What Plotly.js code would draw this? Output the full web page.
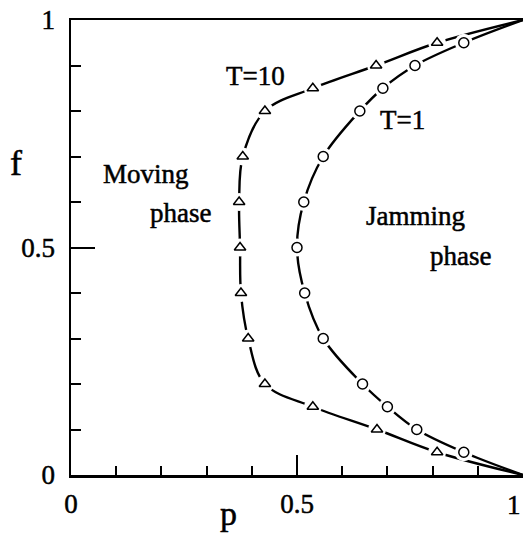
<!DOCTYPE html>
<html>
<head>
<meta charset="utf-8">
<script src="https://cdn.plot.ly/plotly-3.0.1.min.js"></script>
<style>
html,body{margin:0;padding:0;background:#fff;}
#chart{width:523px;height:535px;}
#chart .annotation-text, #chart .xtick text, #chart .ytick text { stroke: #000; stroke-width: 0.5px; }
</style>
</head>
<body>
<div id="chart"></div>
<script>
// Data
var fT10 = [0.05, 0.1, 0.15, 0.2, 0.3, 0.4, 0.5, 0.6, 0.7, 0.8, 0.85, 0.9, 0.95];
var pT10 = [0.81, 0.677, 0.535, 0.429, 0.392, 0.376, 0.374, 0.372, 0.38, 0.429, 0.535, 0.675, 0.81];
var fT1 = [0.05, 0.1, 0.15, 0.2, 0.3, 0.4, 0.5, 0.6, 0.7, 0.8, 0.85, 0.9, 0.95];
var pT1 = [0.869, 0.765, 0.70, 0.645, 0.558, 0.517, 0.50, 0.515, 0.558, 0.639, 0.69, 0.761, 0.869];
var endP = [1, 1];
var endF = [0, 1];
var tickVals = [0, 0.5, 1];
var tickText = ['0', '0.5', '1'];

var FONT = "'Liberation Serif', 'Times New Roman', serif";

function curve(p, f) {
  return {
    x: [endP[0]].concat(p, [endP[1]]),
    y: [endF[0]].concat(f, [endF[1]])
  };
}
var c10 = curve(pT10, fT10);
var c1 = curve(pT1, fT1);

var traces = [
  {x: c10.x, y: c10.y, mode: 'lines', line: {color: '#000', width: 2.4, shape: 'spline', smoothing: 1}, hoverinfo: 'skip', showlegend: false},
  {x: c1.x, y: c1.y, mode: 'lines', line: {color: '#000', width: 2.4, shape: 'spline', smoothing: 1}, hoverinfo: 'skip', showlegend: false},
  {x: pT10, y: fT10, mode: 'markers', marker: {symbol: 'circle', size: 18, color: '#fff', line: {width: 0}}, showlegend: false, hoverinfo: 'skip'},
  {x: pT1, y: fT1, mode: 'markers', marker: {symbol: 'circle', size: 18, color: '#fff', line: {width: 0}}, showlegend: false, hoverinfo: 'skip'},
  {x: pT10, y: fT10, mode: 'markers', name: 'T=10', marker: {symbol: 'triangle-up', size: 10, color: '#fff', line: {color: '#000', width: 1.5}}, showlegend: false},
  {x: pT1, y: fT1, mode: 'markers', name: 'T=1', marker: {symbol: 'circle', size: 10, color: '#fff', line: {color: '#000', width: 1.5}}, showlegend: false}
];

function ann(text, x, y, size, ref, xa, ya) {
  return {text: text, x: x, y: y, xref: ref || 'x', yref: ref || 'y', showarrow: false,
          xanchor: xa || 'center', yanchor: ya || 'middle', font: {family: FONT, size: size || 27, color: '#000'}};
}
// pixel -> data / paper helpers for layout placement
function px(x) { return (x - 71) / 452; }
function py(y) { return (475 - y) / 455; }

var layout = {
  width: 523, height: 535,
  margin: {l: 71, r: 0, t: 20, b: 60},
  paper_bgcolor: '#fff', plot_bgcolor: '#fff',
  showlegend: false,
  xaxis: {
    range: [0, 1], showgrid: false, zeroline: false,
    showline: true, linecolor: '#000', linewidth: 2.5, mirror: true,
    ticks: 'inside', tickvals: tickVals.slice(0, 2), ticktext: tickText.slice(0, 2), ticklen: 20, tickwidth: 2, tickcolor: '#000',
    minor: {ticks: 'inside', dtick: 0.1, ticklen: 9, tickwidth: 2, tickcolor: '#000', showgrid: false},
    ticklabelstandoff: 3,
    tickfont: {family: FONT, size: 27, color: '#000'}
  },
  yaxis: {
    range: [0, 1], showgrid: false, zeroline: false,
    showline: true, linecolor: '#000', linewidth: 2.5, mirror: false,
    ticks: 'inside', tickvals: tickVals, ticktext: tickText, ticklen: 24, tickwidth: 2, tickcolor: '#000',
    minor: {ticks: 'inside', dtick: 0.1, ticklen: 10, tickwidth: 2, tickcolor: '#000', showgrid: false},
    ticklabelstandoff: 8,
    tickfont: {family: FONT, size: 27, color: '#000'}
  },
  annotations: [
    ann('f', px(16), py(163), 36, 'paper'),
    ann('p', px(228), py(534), 34, 'paper', 'center', 'bottom'),
    ann(tickText[2], px(523), py(505), 27, 'paper', 'right', 'middle'),
    ann('T=10', px(255), py(76), 27),
    ann('T=1', px(402), py(120), 27),
    ann('Moving', px(146), py(174), 27),
    ann('phase', px(180), py(213), 27),
    ann('Jamming', px(415), py(216), 27),
    ann('phase', px(460), py(256), 27)
  ]
};

Plotly.newPlot('chart', traces, layout, {displayModeBar: false, staticPlot: true});
</script>
</body>
</html>
